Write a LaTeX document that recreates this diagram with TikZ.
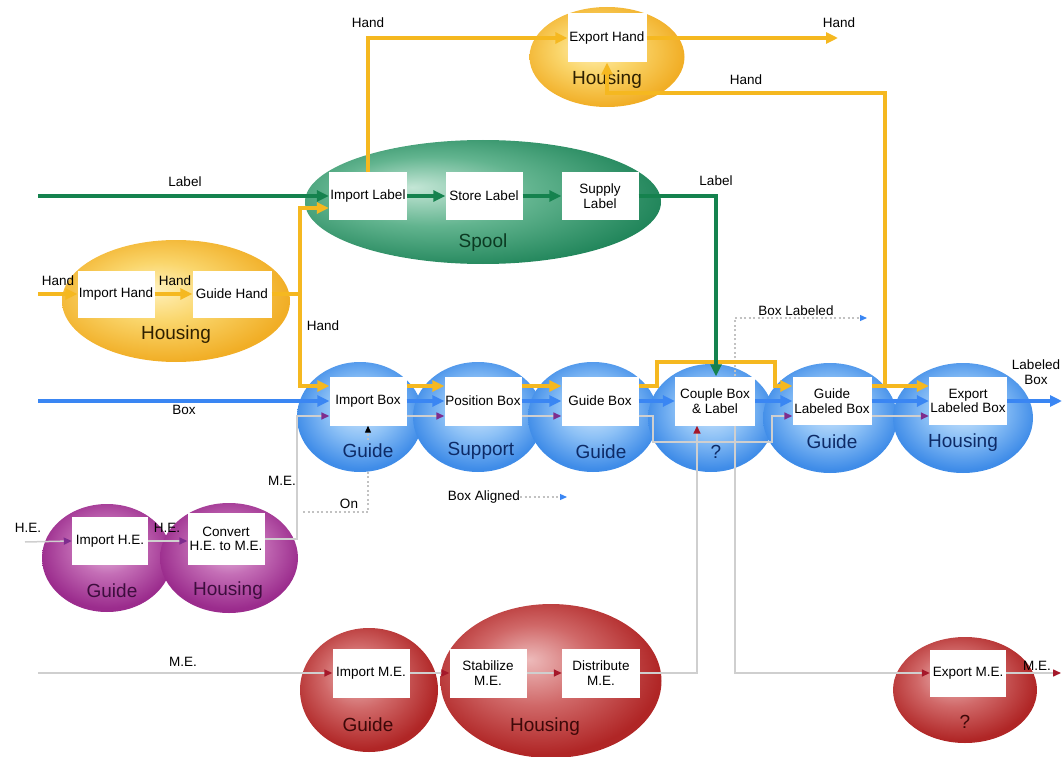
\documentclass[tikz,border=0pt]{standalone}
\usepackage{fontspec}
\setmainfont{Liberation Sans}
\usetikzlibrary{arrows.meta,shapes.geometric}

% flow colours
\definecolor{handc}{HTML}{F5B820}
\definecolor{labelc}{HTML}{15824E}
\definecolor{boxc}{HTML}{3A86F3}
\definecolor{mec}{HTML}{CFCFCF}
\definecolor{sigc}{HTML}{C2C2C2}
\definecolor{purc}{HTML}{7E2C8E}
\definecolor{redc}{HTML}{A5182A}
% function-carrier colours (light / mid / dark)
\definecolor{yL}{HTML}{FFF1BC}\definecolor{yM}{HTML}{FAD66C}\definecolor{yD}{HTML}{F1AE26}
\definecolor{gL}{HTML}{C4E6D6}\definecolor{gM}{HTML}{62B48F}\definecolor{gD}{HTML}{1F8459}
\definecolor{bL}{HTML}{D6EAFD}\definecolor{bM}{HTML}{8DC1F6}\definecolor{bD}{HTML}{3F8CE8}
\definecolor{pL}{HTML}{EDC6E6}\definecolor{pM}{HTML}{C46EB6}\definecolor{pD}{HTML}{9B2C8D}
\definecolor{rL}{HTML}{EDBABA}\definecolor{rM}{HTML}{D06868}\definecolor{rD}{HTML}{B02626}
\definecolor{yT}{HTML}{2E2000}\definecolor{gT}{HTML}{0B3A22}\definecolor{bT}{HTML}{0D2A66}
\definecolor{pT}{HTML}{3D0D3D}\definecolor{rT}{HTML}{3D0808}

\pgfdeclareradialshading{yball}{\pgfpoint{-5bp}{5bp}}{color(0bp)=(yL); color(12bp)=(yM); color(27bp)=(yD); color(50bp)=(yD)}
\pgfdeclareradialshading{gball}{\pgfpoint{-10bp}{6bp}}{color(0bp)=(gL); color(14bp)=(gM); color(30bp)=(gD); color(50bp)=(gD)}
\pgfdeclareradialshading{bball}{\pgfpoint{0bp}{5bp}}{color(0bp)=(bL); color(13bp)=(bM); color(26bp)=(bD); color(50bp)=(bD)}
\pgfdeclareradialshading{pball}{\pgfpoint{0bp}{6bp}}{color(0bp)=(pL); color(12bp)=(pM); color(26bp)=(pD); color(50bp)=(pD)}
\pgfdeclareradialshading{rball}{\pgfpoint{-5bp}{7bp}}{color(0bp)=(rL); color(13bp)=(rM); color(27bp)=(rD); color(50bp)=(rD)}

\begin{document}
\begin{tikzpicture}[x=1pt, y=-1pt,
  ell/.style={ellipse, shade, inner sep=0pt, outer sep=0pt},
  yell/.style={ell, shading=yball},
  gell/.style={ell, shading=gball},
  bell/.style={ell, shading=bball},
  pell/.style={ell, shading=pball},
  rell/.style={ell, shading=rball},
  procbox/.style={fill=white, inner sep=0pt, minimum width=77pt, minimum height=48pt,
    align=center, font=\fontsize{13.5}{14.5}\selectfont},
  sig/.style={font=\fontsize{13.5}{14.5}\selectfont, inner sep=0pt, align=center},
  big/.style={font=\fontsize{19}{21}\selectfont, inner sep=0pt},
  handln/.style={draw=handc, line width=4pt, -{Triangle[length=12pt,width=11pt]}},
  labln/.style={draw=labelc, line width=4pt, -{Triangle[length=12pt,width=11pt]}},
  boxln/.style={draw=boxc, line width=4pt, -{Triangle[length=12pt,width=11pt]}},
  melnP/.style={draw=mec, line width=1.5pt, -{Triangle[length=8pt,width=7pt,color=purc]}},
  melnR/.style={draw=mec, line width=1.5pt, -{Triangle[length=8pt,width=7pt,color=redc]}},
  sigln/.style={draw=sigc, line width=1.2pt, dash pattern=on 2pt off 2.5pt},
]
\useasboundingbox (0,0) rectangle (1063,757);

% levels and turning points
\coordinate (lvH) at (0,386);
\coordinate (lvM) at (0,416);
\coordinate (xG) at (716,0);
\coordinate (xR1) at (697,0);
\coordinate (xR2) at (735,0);
\coordinate (meV) at (297,0);
\coordinate (hJ) at (300,294);
\coordinate (lvIL) at (0,208);
\coordinate (hb1) at (657,362);
\coordinate (hb2) at (775,362);
\coordinate (mb1) at (653,442);
\coordinate (mb2) at (772,442);
\coordinate (hR1) at (885,386);
\coordinate (hR2) at (885,93);
\coordinate (handOut) at (838,38);
\coordinate (labIn) at (38,196);
\coordinate (handIn) at (38,294);
\coordinate (boxIn) at (38,401);
\coordinate (boxOut) at (1062,401);
\coordinate (heIn) at (25,542);
\coordinate (meIn) at (38,673);
\coordinate (meOut) at (1061,673);
\coordinate (onStart) at (303,512);
\coordinate (onBend) at (368,512);
\coordinate (onEnd) at (368,440);
\coordinate (blOut) at (867,318);
\coordinate (baOut) at (567,497);

% "On" signal runs behind the carriers
\draw[sigln] (onStart) -- (onBend) -- (onEnd);

% function carriers
\node[yell, minimum width=155pt, minimum height=100pt] (hsgTop) at (607,57) {};
\node[gell, minimum width=356pt, minimum height=124pt] (spool) at (483,202) {};
\node[yell, minimum width=228pt, minimum height=122pt] (hsgLeft) at (176,301) {};
\node[bell, minimum width=126pt, minimum height=110pt] (bg1) at (360,417) {};
\node[bell, minimum width=130pt, minimum height=110pt] (bsup) at (478,417) {};
\node[bell, minimum width=130pt, minimum height=110pt] (bg2) at (593,417) {};
\node[bell, minimum width=126pt, minimum height=108pt] (bq) at (711,418) {};
\node[bell, minimum width=134pt, minimum height=110pt] (bg3) at (830,418) {};
\node[bell, minimum width=140pt, minimum height=110pt] (bh) at (963,418) {};
\node[pell, minimum width=130pt, minimum height=108pt] (pg) at (107,558) {};
\node[pell, minimum width=138pt, minimum height=110pt] (ph) at (229,558) {};
\node[rell, minimum width=138pt, minimum height=124pt] (rg) at (369,690) {};
\node[rell, minimum width=221pt, minimum height=154pt] (rh) at (551,681) {};
\node[rell, minimum width=144pt, minimum height=106pt] (rq) at (965,690) {};

% carrier names
\node[big, text=yT] (tHsgTop) at (607,80) {Housing};
\node[big, text=gT] (tSpool) at (483,243) {Spool};
\node[big, text=yT] (tHsgLeft) at (176,335) {Housing};
\node[big, text=bT] (tG1) at (368,451) {Guide};
\node[big, text=bT] (tSup) at (481,451) {Support};
\node[big, text=bT] (tG2) at (601,452) {Guide};
\node[big, text=bT] (tQ) at (716,452) {?};
\node[big, text=bT] (tG3) at (832,442) {Guide};
\node[big, text=bT] (tH) at (963,443) {Housing};
\node[big, text=pT] (tPG) at (112,591) {Guide};
\node[big, text=pT] (tPH) at (228,591) {Housing};
\node[big, text=rT] (tRG) at (368,725) {Guide};
\node[big, text=rT] (tRH) at (545,727) {Housing};
\node[big, text=rT] (tRQ) at (965,722) {?};

% functions
\node[procbox, minimum width=79pt, minimum height=49pt] (eh) at (607,38) {Export Hand};
\node[procbox, minimum width=78pt, minimum height=47pt] (il) at (368,196) {Import Label};
\node[procbox, minimum width=77pt, minimum height=47pt] (sl) at (484,196) {Store Label};
\node[procbox, minimum width=77pt, minimum height=47pt] (spl) at (600,196) {Supply\\Label};
\node[procbox, minimum width=77pt, minimum height=47pt] (ih) at (116,294) {Import Hand};
\node[procbox, minimum width=79pt, minimum height=47pt] (gh) at (232,294) {Guide Hand};
\node[procbox, minimum height=49pt] (ib) at (368,401) {Import Box};
\node[procbox, minimum height=49pt] (pb) at (483,401) {Position Box};
\node[procbox, minimum height=49pt] (gb) at (600,401) {Guide Box};
\node[procbox, minimum width=80pt, minimum height=49pt] (cb) at (715,401) {Couple Box\\\& Label};
\node[procbox, minimum width=79pt, minimum height=48pt] (glb) at (832,401) {Guide\\Labeled Box};
\node[procbox, minimum width=78pt, minimum height=48pt] (elb) at (968,401) {Export\\Labeled Box};
\node[procbox, minimum width=76pt, minimum height=48pt] (ihe) at (110,541) {Import H.E.};
\node[procbox, minimum width=77pt, minimum height=52pt] (conv) at (226,539) {Convert\\H.E. to M.E.};
\node[procbox, minimum height=49pt] (ime) at (371,673) {Import M.E.};
\node[procbox, minimum height=49pt] (stb) at (488,673) {Stabilize\\M.E.};
\node[procbox, minimum width=78pt, minimum height=49pt] (dst) at (601,673) {Distribute\\M.E.};
\node[procbox, minimum width=76pt, minimum height=47pt] (eme) at (968,673) {Export M.E.};

% mechanical energy (thin grey)
\draw[melnP] (conv.east) -- (conv.east -| meV) |- (ib.west |- lvM);
\draw[melnP] (ib.east |- lvM) -- (pb.west |- lvM);
\draw[melnP] (pb.east |- lvM) -- (gb.west |- lvM);
\draw[melnP] (gb.east |- lvM) -| (mb1) -- (mb2) |- (glb.west |- lvM);
\draw[melnP] (glb.east |- lvM) -- (elb.west |- lvM);
\draw[melnP] (heIn) -- (ihe.west);
\draw[melnP] (ihe.east) -- (conv.west |- ihe.east);
\draw[melnR] (meIn) -- (ime.west);
\draw[melnR] (ime.east) -- (stb.west);
\draw[melnR] (stb.east) -- (dst.west);
\draw[melnR] (dst.east) -| (cb.south -| xR1);
\draw[melnR] (cb.south -| xR2) |- (eme.west);
\draw[melnR] (eme.east) -- (meOut);

% signals (dotted)
\draw[sigln, -{Triangle[length=7pt,width=6pt,color=black]}] (onEnd) -- (ib.south);
\draw[sigln, -{Triangle[length=7pt,width=6pt,color=boxc]}] (cb.north -| xR2) |- (blOut);
\node[sig] (tBA) at (484,497) {Box Aligned};
\draw[sigln, -{Triangle[length=7pt,width=6pt,color=boxc]}] (tBA.east) -- (baOut);

% hand flow
\draw[handln] (handIn) -- (ih.west);
\draw[handln] (ih.east) -- (gh.west);
\draw[handln] (gh.east) -- (hJ) |- (il.west |- lvIL);
\draw[handln] (hJ) |- (ib.west |- lvH);
\draw[handln] (il.north) |- (eh.west);
\draw[handln] (eh.east) -- (handOut);
\draw[handln] (ib.east |- lvH) -- (pb.west |- lvH);
\draw[handln] (pb.east |- lvH) -- (gb.west |- lvH);
\draw[handln] (gb.east |- lvH) -| (hb1) -- (hb2) |- (glb.west |- lvH);
\draw[handln] (glb.east |- lvH) -- (elb.west |- lvH);
\draw[handln] (hR1) -- (hR2) -| (eh.south);

% label flow
\draw[labln] (labIn) -- (il.west);
\draw[labln] (il.east) -- (sl.west);
\draw[labln] (sl.east) -- (spl.west);
\draw[labln] (spl.east) -| (cb.north -| xG);

% box flow
\draw[boxln] (boxIn) -- (ib.west);
\draw[boxln] (ib.east) -- (pb.west);
\draw[boxln] (pb.east) -- (gb.west);
\draw[boxln] (gb.east) -- (cb.west);
\draw[boxln] (cb.east) -- (glb.west);
\draw[boxln] (glb.east) -- (elb.west);
\draw[boxln] (elb.east) -- (boxOut);

% flow names
\node[sig] (tHand1) at (368,23) {Hand};
\node[sig] (tHand2) at (839,23) {Hand};
\node[sig] (tHand3) at (746,80) {Hand};
\node[sig] (tLab1) at (185,182) {Label};
\node[sig] (tLab2) at (716,181) {Label};
\node[sig] (tHand4) at (58,281) {Hand};
\node[sig] (tHand5) at (175,281) {Hand};
\node[sig] (tHand6) at (323,326) {Hand};
\node[sig] (tBL) at (796,311) {Box Labeled};
\node[sig] (tLB) at (1036,372) {Labeled\\Box};
\node[sig] (tBox) at (184,410) {Box};
\node[sig] (tME1) at (282,481) {M.E.};
\node[sig] (tOn) at (349,504) {On};
\node[sig] (tHE1) at (28,528) {H.E.};
\node[sig] (tHE2) at (167,528) {H.E.};
\node[sig] (tME2) at (183,662) {M.E.};
\node[sig] (tME3) at (1037,666) {M.E.};
\end{tikzpicture}
\end{document}
